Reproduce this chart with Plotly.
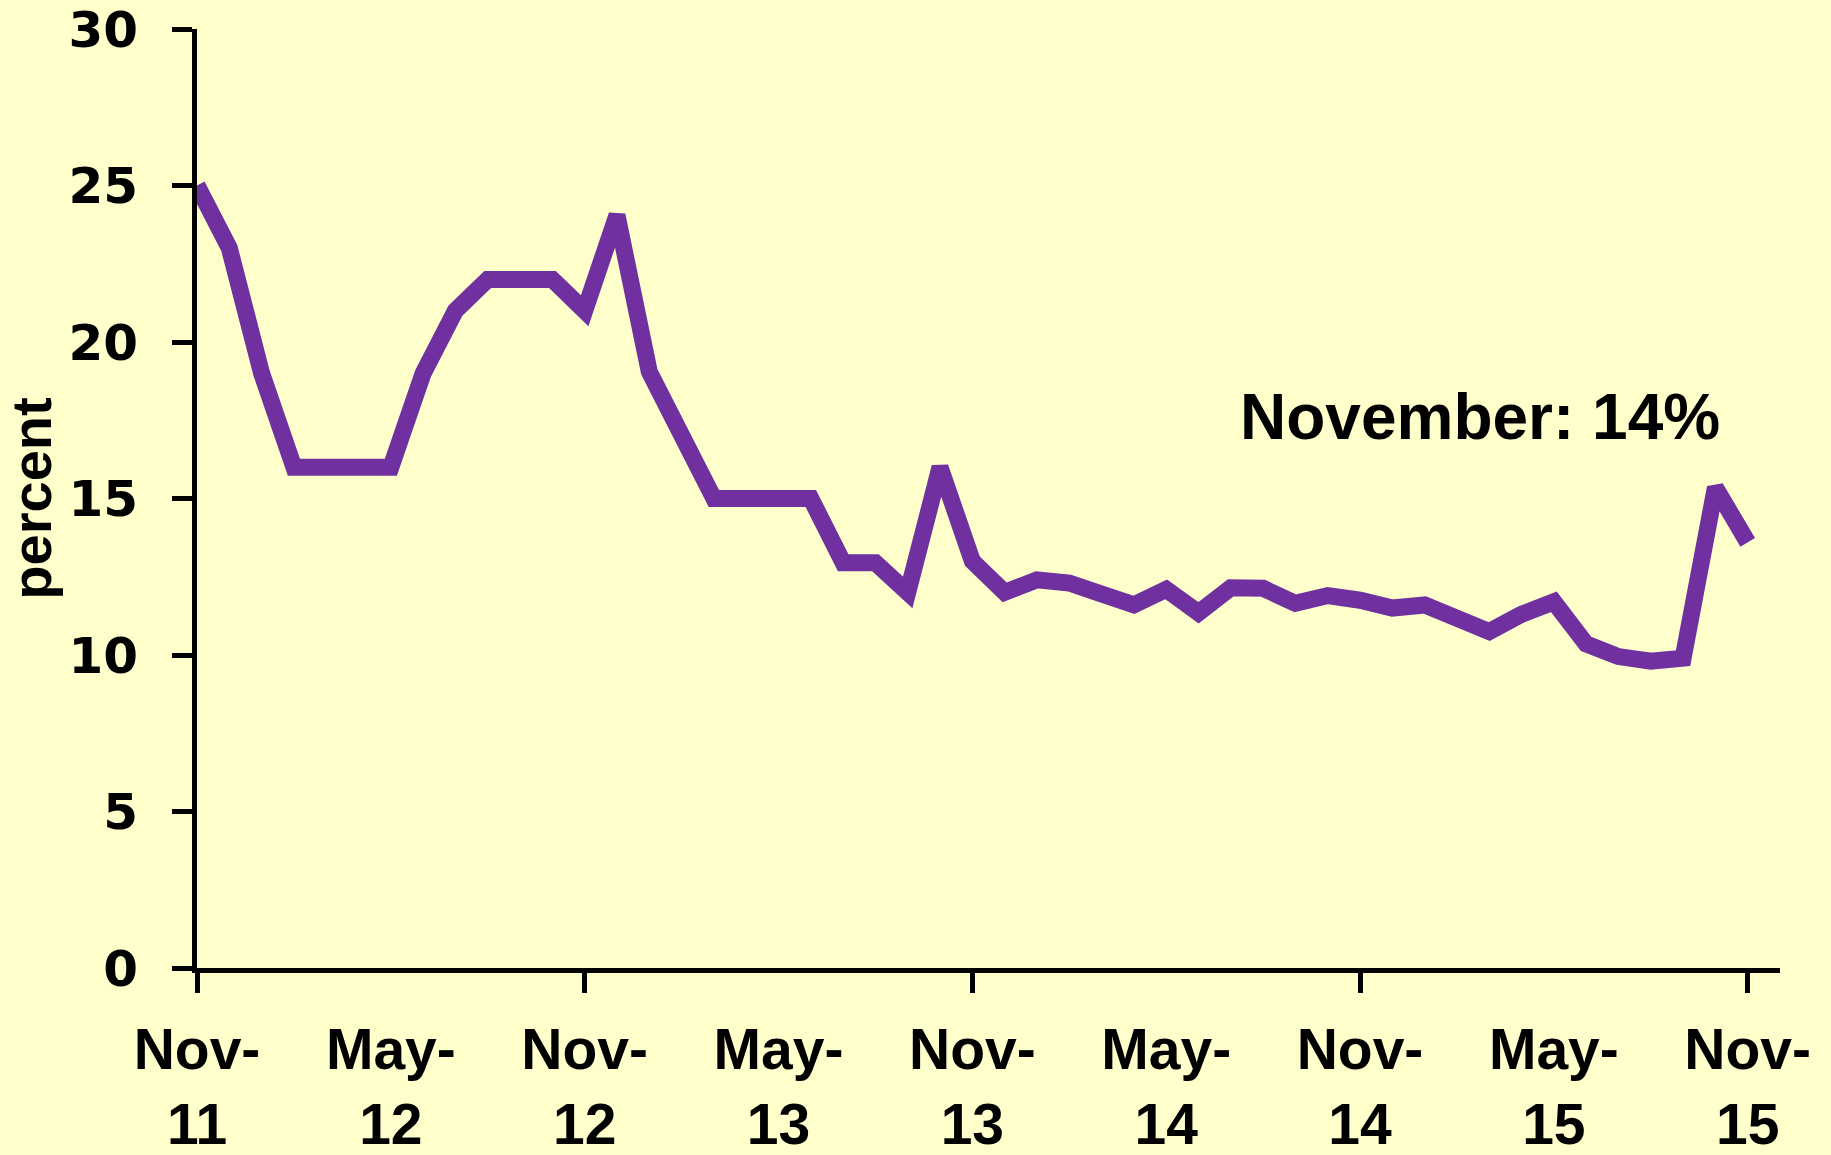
import plotly.graph_objects as go

# Monthly series, Nov-2011 .. Nov-2015 (49 months)
month_index = list(range(49))
values = [25.0, 23.0, 19.0, 16.0, 16.0, 16.0, 16.0, 19.0, 21.0, 22.0, 22.0, 22.0,
          21.0, 24.05, 19.05, 17.0, 15.0, 15.0, 15.0, 15.0, 12.95, 12.95, 12.0, 16.0,
          13.0, 12.0, 12.4, 12.3, 11.95, 11.6, 12.1, 11.35, 12.15, 12.13, 11.65, 11.9,
          11.75, 11.5, 11.6, 11.15, 10.75, 11.3, 11.7, 10.35, 9.95, 9.8, 9.9, 15.35,
          13.6]

label_months = [0, 6, 12, 18, 24, 30, 36, 42, 48]
label_texts = ["Nov-<br>11", "May-<br>12", "Nov-<br>12", "May-<br>13", "Nov-<br>13",
               "May-<br>14", "Nov-<br>14", "May-<br>15", "Nov-<br>15"]
tick_months = [0, 12, 24, 36, 48]
y_ticks = [0, 5, 10, 15, 20, 25, 30]

bg = "#FFFFCC"
purple = "#7030A0"

fig = go.Figure()
fig.add_trace(go.Scatter(
    x=month_index, y=values, mode="lines",
    line=dict(color=purple, width=17, shape="linear"),
    hoverinfo="skip", showlegend=False,
))

fig.add_annotation(
    x=39.7, y=17.6, xref="x", yref="y",
    text="<b>November: 14%</b>", showarrow=False,
    xanchor="center", yanchor="middle",
    font=dict(family="Liberation Sans, Arial, sans-serif", size=64, color="black"),
)

fig.update_layout(
    width=1831, height=1155,
    paper_bgcolor=bg, plot_bgcolor=bg,
    margin=dict(l=197, r=51, t=29, b=187, autoexpand=False),
    showlegend=False,
    xaxis=dict(
        range=[0, 49], automargin=False,
        tickmode="array", tickvals=label_months, ticktext=label_texts,
        ticks="", ticklabelstandoff=28,
        tickfont=dict(family="Liberation Sans, Arial, sans-serif", size=57, color="black", weight="bold"),
        showline=True, linecolor="black", linewidth=5,
        showgrid=False, zeroline=False,
        minor=dict(tickvals=tick_months, ticks="outside", ticklen=20, tickwidth=5,
                   tickcolor="black", showgrid=False),
    ),
    yaxis=dict(
        range=[0, 30], automargin=False,
        tickmode="array", tickvals=y_ticks,
        ticks="outside", ticklen=20, tickwidth=5, tickcolor="black",
        ticklabelstandoff=24,
        tickfont=dict(family="DejaVu Sans, Verdana, sans-serif", size=50, color="black", weight="bold"),
        showline=True, linecolor="black", linewidth=5,
        showgrid=False, zeroline=False,
        title=dict(text="<b>percent</b>", standoff=12,
                   font=dict(family="Liberation Sans, Arial, sans-serif", size=56, color="black")),
    ),
)

fig.write_html(
    "out.html",
    config={"displayModeBar": False},
    post_script="document.body.style.margin='0';document.body.style.background='#FFFFCC';",
)
